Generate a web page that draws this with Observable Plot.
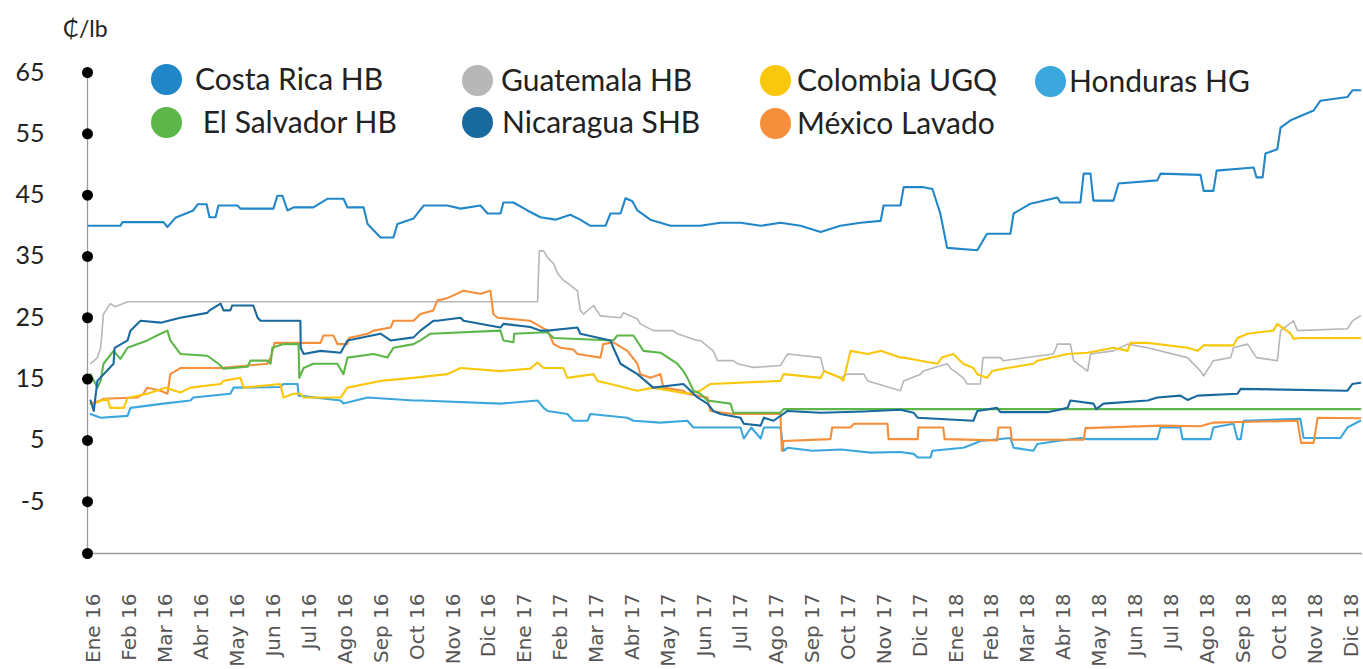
<!DOCTYPE html>
<html><head><meta charset="utf-8">
<script src="https://cdn.jsdelivr.net/npm/d3@7"></script>
<script src="https://cdn.jsdelivr.net/npm/@observablehq/plot@0.6"></script>
<style>
body{margin:0;background:#fff;}
#wrap{position:relative;width:1363px;height:669px;overflow:hidden;background:#fff;}
#unit{position:absolute;left:63px;top:14px;font:23px Lato,sans-serif;color:#222;}
.dot{position:absolute;width:31px;height:31px;border-radius:50%;}
.lab{position:absolute;font:30px Lato,sans-serif;color:#222;line-height:34px;white-space:pre;}
</style></head>
<body>
<div id="wrap"><div id="unit">₵/lb</div></div>
<script>
// x positions are month indices: 0 = Ene 16 ... 35 = Dic 18 (fractions = within month)
const monthLabels = ["Ene 16","Feb 16","Mar 16","Abr 16","May 16","Jun 16","Jul 16","Ago 16","Sep 16","Oct 16","Nov 16","Dic 16",
  "Ene 17","Feb 17","Mar 17","Abr 17","May 17","Jun 17","Jul 17","Ago 17","Sep 17","Oct 17","Nov 17","Dic 17",
  "Ene 18","Feb 18","Mar 18","Abr 18","May 18","Jun 18","Jul 18","Ago 18","Sep 18","Oct 18","Nov 18","Dic 18"];
const yTicks = [65, 55, 45, 35, 25, 15, 5, -5];
const seriesNames = ["Costa Rica HB","Guatemala HB","Colombia UGQ","Honduras HG","El Salvador HB","Nicaragua SHB","México Lavado"];
const seriesColors = ["#2187c9","#b7b7b7","#f9c70c","#3ca7dd","#5db649","#18699e","#f58f3b"];

const costaRica = [[-0.15,40],[0.74,40],[0.80,40.6],[1.94,40.6],[2.05,39.8],[2.27,41.3],[2.77,42.5],[2.89,43.5],[3.14,43.5],[3.22,41.4],[3.39,41.4],[3.47,43.3],[4.00,43.3],[4.08,42.8],[5.00,42.8],[5.11,44.9],[5.25,44.9],[5.39,42.5],[5.56,43],[6.11,43],[6.50,44.4],[6.95,44.4],[7.06,43],[7.51,43],[7.62,40.3],[7.98,38.1],[8.34,38.1],[8.45,40.3],[8.90,41.2],[9.18,43.3],[9.84,43.3],[10.21,42.8],[10.76,43.3],[10.96,42],[11.32,42],[11.40,43.8],[11.68,43.8],[12.07,42.5],[12.43,41.4],[12.85,41],[13.26,41.8],[13.54,41],[13.82,40],[14.24,40],[14.38,42],[14.66,42],[14.80,44.5],[14.99,44],[15.13,42.5],[15.49,41],[16.05,40],[16.88,40],[17.44,40.5],[18.00,40.5],[18.56,40],[19.11,40.5],[19.67,40],[20.23,39],[20.78,40],[21.34,40.5],[21.90,40.8],[21.98,43.3],[22.45,43.3],[22.54,46.3],[23.09,46.3],[23.34,46],[23.56,42],[23.75,36.4],[24.59,36],[24.86,38.7],[25.51,38.7],[25.60,42],[26.07,43.6],[26.82,44.6],[26.90,43.8],[27.46,43.8],[27.55,48.5],[27.74,48.5],[27.82,44.1],[28.38,44.1],[28.52,46.9],[29.60,47.4],[29.69,48.5],[30.80,48.3],[30.89,45.7],[31.16,45.7],[31.25,49],[32.28,49.5],[32.36,47.9],[32.53,47.9],[32.61,51.8],[32.94,52.5],[33.03,56],[33.31,57.2],[33.95,58.8],[34.14,60.4],[34.89,61],[35.03,62.1],[35.25,62.1]];

const guatemala = [[-0.09,17.5],[0.10,18.5],[0.19,20.1],[0.27,25.6],[0.46,27.3],[0.60,26.8],[0.94,27.6],[12.35,27.6],[12.40,35.9],[12.52,35.9],[12.63,34.8],[12.80,33.8],[12.91,32.2],[13.07,31.1],[13.18,30.7],[13.46,29.4],[13.54,26.2],[13.63,25.6],[13.91,27],[14.10,25.3],[14.66,25],[14.74,25.8],[15.13,24.8],[15.21,24],[15.57,22.9],[16.13,22.9],[16.24,22.4],[16.80,21.3],[16.88,21.3],[17.24,19.6],[17.36,18],[17.80,18],[17.91,17.5],[18.36,16.9],[19.11,17.2],[19.31,19.1],[20.23,18.5],[20.32,16.3],[20.78,15.2],[20.98,15.8],[21.43,15.8],[21.54,14.7],[22.45,13.1],[22.54,14.7],[23.01,15.8],[23.09,16.3],[23.75,17.5],[23.84,16.8],[24.20,15.2],[24.31,14.2],[24.67,14.2],[24.75,18.5],[25.23,18.5],[25.31,18],[26.71,19.1],[26.82,20.7],[27.18,20.7],[27.27,18],[27.66,16.3],[27.74,19.1],[28.38,19.6],[28.77,20.7],[29.33,20.1],[30.44,18.5],[30.80,16.3],[30.89,15.5],[31.16,18],[31.64,18.5],[31.72,20.1],[32.11,20.7],[32.36,18.5],[32.94,18],[33.03,22.9],[33.39,24.5],[33.50,22.9],[34.89,23.2],[35.03,24.5],[35.25,25.3]];

const colombia = [[-0.01,11],[0.38,11.8],[0.46,10.3],[0.83,10.3],[0.94,11.9],[1.49,12.6],[2.00,13.6],[2.41,12.8],[2.69,13.6],[3.53,14.2],[3.61,14.7],[4.08,15.2],[4.17,13.6],[5.19,14.2],[5.28,12],[5.56,12.6],[5.75,12.6],[5.84,12],[6.87,12],[7.06,13.6],[7.98,14.7],[8.90,15.2],[9.84,15.8],[10.21,16.8],[11.32,16.3],[12.15,16.7],[12.35,17.7],[12.52,16.8],[13.07,16.8],[13.18,15.2],[13.91,15.8],[14.02,14.7],[14.38,14.2],[15.13,13.1],[15.57,13.6],[16.52,12.6],[16.88,13.1],[17.16,14.2],[19.11,14.7],[19.20,15.8],[20.23,15.2],[20.32,16.3],[20.78,15.2],[20.86,14.7],[21.06,19.6],[21.54,19.1],[21.90,19.6],[22.45,18.5],[22.54,18.5],[23.01,18],[23.48,17.5],[23.60,18.5],[23.92,19.1],[24.20,17.5],[24.48,16.8],[24.59,15.8],[24.86,15.2],[25.00,16.3],[25.43,16.8],[26.15,17.5],[26.26,18],[27.10,19.1],[27.66,19.3],[28.38,20.1],[28.77,19.6],[28.85,20.9],[29.33,20.9],[30.44,20.1],[30.72,19.6],[30.89,20.5],[31.72,20.5],[31.83,21.7],[32.11,22.4],[32.83,22.9],[32.94,24],[33.31,22.4],[33.39,21.6],[33.58,21.7],[35.25,21.7]];

const honduras = [[-0.09,9.3],[0.19,8.7],[0.94,9],[1.02,10.3],[1.94,11],[2.69,11.5],[2.77,12],[3.80,12.6],[3.89,13.6],[5.19,13.7],[5.28,14.2],[5.67,14.2],[5.70,12.3],[6.87,11.5],[6.95,11],[7.62,12],[8.90,11.5],[9.09,11.5],[11.32,11],[12.35,11.5],[12.52,10.3],[12.63,9.8],[13.18,9.3],[13.35,8.2],[13.74,8.2],[13.82,9.3],[14.85,8.7],[15.02,8.2],[15.77,7.9],[16.52,8.2],[16.69,7.1],[18.00,7.1],[18.09,5.3],[18.30,7.1],[18.56,5.3],[18.65,7.1],[19.11,7.1],[19.20,3.3],[19.31,3.8],[20.00,3.3],[20.80,3.5],[21.62,3.0],[22.45,3.1],[22.82,2.8],[22.93,2.2],[23.29,2.2],[23.34,3.3],[24.20,3.8],[24.48,4.4],[24.67,4.9],[25.51,5.4],[25.60,3.8],[26.15,3.3],[26.26,4.4],[26.82,4.9],[27.46,5.4],[27.66,5.2],[29.60,5.2],[29.69,7.1],[30.24,7.1],[30.30,5.2],[31.08,5.2],[31.16,7.1],[31.72,7.7],[31.83,5.2],[31.92,5.2],[32.00,8.2],[33.58,8.5],[33.67,5.4],[34.70,5.4],[34.89,7.1],[35.25,8.2]];

const elSalvador = [[-0.09,15.8],[0.10,13.6],[0.19,14.7],[0.27,17.5],[0.55,19.6],[0.74,18.3],[0.94,20.1],[1.49,21.3],[1.86,22.4],[2.05,22.9],[2.13,21.3],[2.41,19.1],[3.16,18.8],[3.47,17.5],[3.61,16.7],[4.28,17],[4.36,18],[4.83,18],[4.92,17.5],[4.97,20.1],[5.28,20.7],[5.70,20.7],[5.72,15.2],[5.84,16.8],[6.11,17.5],[6.78,17.5],[6.95,15.8],[7.06,18.5],[7.79,19.1],[8.17,18.5],[8.34,20.1],[8.90,20.7],[9.09,21.3],[9.37,22.4],[11.32,22.9],[11.40,21.3],[11.68,21],[11.70,22.4],[12.43,22.6],[12.63,22.6],[12.80,21.7],[14.46,21.3],[14.57,22.1],[15.02,22.1],[15.30,19.6],[15.77,19.3],[16.24,17.5],[16.41,16.3],[16.52,15.2],[16.69,13.1],[16.88,12.6],[17.08,11.5],[17.72,11],[17.80,9.5],[19.11,9.5],[19.20,10.1],[35.25,10.1]];

const nicaragua = [[-0.09,11.5],[0.00,9.8],[0.10,14.7],[0.55,17.5],[0.58,20.1],[0.94,21.3],[1.02,22.9],[1.30,24.5],[1.86,24.2],[2.41,25],[3.16,25.8],[3.22,26.2],[3.53,27.3],[3.61,26.2],[3.80,26.2],[3.85,27],[4.44,27],[4.56,25],[4.64,24.5],[5.75,24.5],[5.76,20.1],[5.84,19.1],[6.31,19.6],[6.87,19.3],[7.06,21.3],[7.98,22.4],[8.26,21.3],[8.90,21.8],[9.09,22.9],[9.45,24.5],[9.56,24.5],[10.21,25],[10.29,24.5],[11.32,23.4],[11.40,24],[12.15,23.5],[12.43,22.9],[12.63,22.9],[13.46,23.4],[13.54,22.4],[14.38,21.3],[14.46,20.1],[14.66,17.5],[15.13,15.8],[15.57,13.6],[16.41,14.2],[16.52,13.6],[16.80,12],[17.08,11],[17.24,9.8],[17.44,9.3],[18.00,8.7],[18.09,7.7],[18.56,7.4],[18.65,8.7],[18.92,8.2],[19.31,9.8],[20.23,9.5],[21.43,9.7],[22.45,10],[22.82,9.5],[22.93,8.7],[24.48,8.2],[24.59,9.8],[25.14,10.3],[25.23,9.6],[26.54,9.6],[26.71,9.8],[27.10,10.3],[27.18,11.5],[27.82,11],[27.90,10.1],[28.10,11],[29.33,11.5],[29.60,12],[30.24,12.3],[30.44,11.6],[30.72,12.3],[31.83,12.6],[31.92,13.4],[34.89,13.1],[35.03,14.2],[35.25,14.4]];

const mexico = [[-0.09,11],[0.19,11.5],[0.27,11.8],[1.22,12],[1.38,12.6],[1.49,13.6],[1.86,13.1],[2.05,12.6],[2.13,15.8],[2.41,16.8],[3.53,16.8],[4.83,17.5],[4.92,18.5],[5.00,20.1],[5.03,20.9],[6.31,20.9],[6.39,22.1],[6.67,22.1],[6.78,20.7],[7.06,20.7],[7.10,21.7],[7.62,22.4],[7.79,22.9],[8.26,23.4],[8.34,24.5],[8.90,24.5],[9.09,25.6],[9.45,26.2],[9.56,27.8],[9.84,28.2],[10.29,29.4],[10.76,28.9],[11.04,29.4],[11.12,25.6],[11.24,25],[12.15,24.5],[12.63,22.9],[12.80,20.7],[12.99,20.1],[13.35,19.8],[13.46,19.1],[14.10,18.5],[14.18,20.7],[14.46,21],[14.85,19.6],[15.13,17.5],[15.21,15.8],[15.49,15.2],[15.77,15.8],[15.85,13.6],[16.41,13.1],[16.52,12.6],[17.08,12],[17.16,9.8],[17.80,9.3],[19.11,9.3],[19.15,3.3],[19.20,4.9],[20.50,5.2],[20.55,7.1],[21.06,7.1],[21.15,7.7],[22.09,7.7],[22.12,5.2],[22.93,5.2],[22.95,7.1],[23.64,7.1],[23.68,5.2],[25.14,5.0],[25.18,7.1],[25.51,7.1],[25.55,5.1],[27.55,5.1],[27.60,7.0],[29.69,7.4],[30.80,7.3],[31.16,7.9],[33.50,8.2],[33.60,4.6],[33.95,4.6],[34.06,8.7],[35.25,8.6]];

const seriesData = [costaRica, guatemala, colombia, honduras, elSalvador, nicaragua, mexico];
const drawOrder = [1, 3, 6, 2, 4, 5, 0];

const yMin = -13.45;
const lineMarks = drawOrder.map(i => Plot.line(seriesData[i], {
  x: d => d[0], y: d => d[1],
  stroke: seriesColors[i], strokeWidth: i === 1 ? 1.6 : 2.1, curve: "linear"
}));

const chart = Plot.plot({
  width: 1363, height: 669,
  marginLeft: 87, marginRight: 1, marginTop: 72, marginBottom: 116,
  style: {background: "transparent", overflow: "visible"},
  x: {type: "linear", domain: [-0.175, 35.31], axis: null},
  y: {domain: [yMin, 65], axis: null},
  marks: [
    Plot.ruleY([yMin], {stroke: "#9c9c9c", strokeWidth: 1.3}),
    Plot.ruleX([-0.175], {stroke: "#9c9c9c", strokeWidth: 1.3}),
    ...lineMarks,
    Plot.axisY(yTicks, {tickSize: 0, tickPadding: 43, fontSize: 25, fontFamily: "Lato", fill: "#222", tickFormat: d => String(d)}),
    Plot.axisX(d3.range(monthLabels.length), {tickSize: 0, tickRotate: -90, tickPadding: 40, fontSize: 20, fontFamily: "DejaVu Sans", fill: "#555", tickFormat: i => monthLabels[i]}),
    Plot.dot([...yTicks, yMin], {y: d => d, frameAnchor: "left", r: 5.5, fill: "#000", stroke: "none"})
  ]
});
const wrap = document.getElementById("wrap");
chart.style.position = "absolute"; chart.style.left = "0"; chart.style.top = "0";
wrap.insertBefore(chart, wrap.firstChild);

// legend (HTML overlay)
const legendLayout = [
  {cx: 166, cy: 79, tx: 195, text: "Costa Rica HB"},
  {cx: 477, cy: 80, tx: 501, text: "Guatemala HB"},
  {cx: 775, cy: 80, tx: 797, text: "Colombia UGQ"},
  {cx: 1050, cy: 81, tx: 1069, text: "Honduras HG"},
  {cx: 166, cy: 122, tx: 195, text: " El Salvador HB"},
  {cx: 477, cy: 122, tx: 502, text: "Nicaragua SHB"},
  {cx: 775, cy: 123, tx: 797, text: "México Lavado"}
];
legendLayout.forEach((l, i) => {
  const c = document.createElement("div");
  c.className = "dot"; c.style.left = (l.cx - 15.5) + "px"; c.style.top = (l.cy - 15.5) + "px";
  c.style.background = seriesColors[i];
  wrap.appendChild(c);
  const t = document.createElement("div");
  t.className = "lab"; t.textContent = l.text;
  t.style.left = l.tx + "px"; t.style.top = (l.cy - 18) + "px";
  wrap.appendChild(t);
});
</script>
</body></html>
